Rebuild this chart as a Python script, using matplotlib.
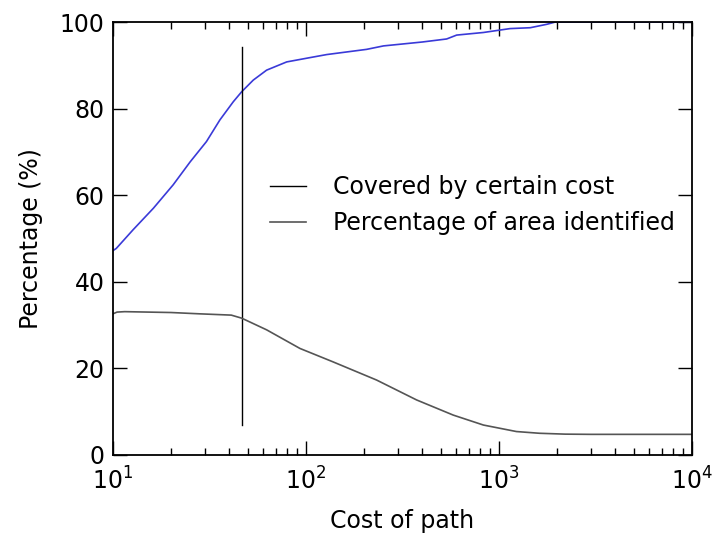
import matplotlib
matplotlib.use("Agg")
import matplotlib.pyplot as plt
import numpy as np

# blue curve: covered by certain cost
cost_cov = np.array([10, 10.4, 12.7, 16.2, 20.5, 25.1, 30.5, 35.8, 42, 46.4, 53.3, 62.5, 79.4,
                     105, 128, 206, 252, 400, 535, 603, 830, 1140, 1450, 1770, 1950, 10000])
pct_cov = np.array([47.2, 47.7, 52, 57, 62.4, 67.7, 72.4, 77.4, 81.6, 83.9, 86.6, 88.9, 90.8,
                    91.8, 92.5, 93.7, 94.5, 95.4, 96.1, 97, 97.6, 98.5, 98.7, 99.5, 100, 100])

# grey curve: percentage of area identified
cost_area = np.array([10, 10.5, 11.5, 20, 28, 41, 46.4, 62.5, 93, 138, 232, 374, 579, 830,
                      1230, 1620, 2200, 3000, 10000])
pct_area = np.array([32.6, 33, 33.1, 32.9, 32.6, 32.3, 31.6, 28.9, 24.6, 21.5, 17.3, 12.7, 9.2, 6.9,
                     5.4, 5.0, 4.8, 4.75, 4.75])

# vertical marker
vline_x = 46.5
vline_y = [6.9, 94.2]

fig = plt.figure(figsize=(7.15, 5.39), dpi=100)
ax = fig.add_axes([0.158, 0.156, 0.81, 0.803])

ax.plot(cost_cov, pct_cov, color="#3a3ad8", linewidth=1.2)
l1, = ax.plot([vline_x, vline_x], vline_y, color="black", linewidth=1.0)
l2, = ax.plot(cost_area, pct_area, color="#555555", linewidth=1.2)

ax.set_xscale("log")
ax.set_xlim(10, 10000)
ax.set_ylim(0, 100)
ax.set_yticks([0, 20, 40, 60, 80, 100])

ax.tick_params(which="both", direction="in", top=True, right=True, labelsize=17)
ax.tick_params(which="major", length=10, width=1)
ax.tick_params(which="minor", length=5, width=1)
ax.tick_params(axis="x", pad=9)
ax.tick_params(axis="y", pad=6)
for s in ax.spines.values():
    s.set_linewidth(1.3)

ax.set_xlabel("Cost of path", fontsize=17, labelpad=10)
ax.set_ylabel("Percentage (%)", fontsize=17, labelpad=12)

ax.legend([l1, l2], ["Covered by certain cost", "Percentage of area identified"],
          frameon=False, fontsize=17, loc="center left",
          bbox_to_anchor=(0.378, 0.619), bbox_transform=fig.transFigure,
          borderaxespad=0, borderpad=0, handlelength=1.5, handletextpad=1.15,
          labelspacing=0.5)

fig.savefig("out.png", dpi=100)
